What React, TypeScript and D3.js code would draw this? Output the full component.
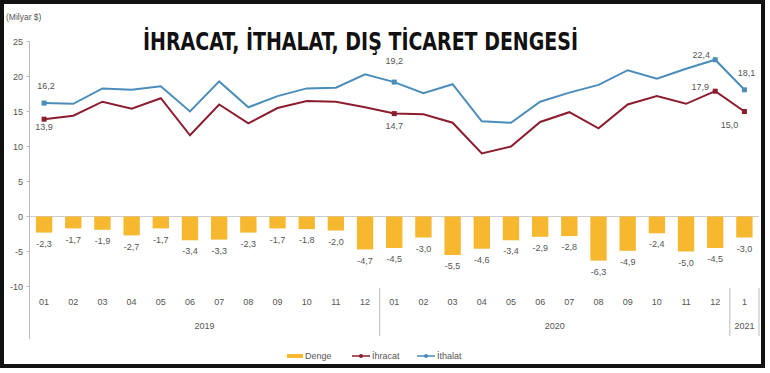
import React from "react";
import * as d3 from "d3";

const months = ["01","02","03","04","05","06","07","08","09","10","11","12","01","02","03","04","05","06","07","08","09","10","11","12","1"];
const years = ["2019", "2020", "2021"];
const yearSpans = [12, 12, 1];

const ithalat = [16.2,16.1,18.3,18.1,18.6,15.0,19.3,15.6,17.2,18.3,18.4,20.3,19.2,17.6,18.9,13.6,13.4,16.4,17.7,18.8,20.9,19.7,21.1,22.4,18.1];
const ihracat = [13.9,14.4,16.4,15.4,16.9,11.6,16.0,13.3,15.5,16.5,16.4,15.6,14.7,14.6,13.4,9.0,10.0,13.5,14.9,12.6,16.0,17.2,16.1,17.9,15.0];
const denge = [-2.3,-1.7,-1.9,-2.7,-1.7,-3.4,-3.3,-2.3,-1.7,-1.8,-2.0,-4.7,-4.5,-3.0,-5.5,-4.6,-3.4,-2.9,-2.8,-6.3,-4.9,-2.4,-5.0,-4.5,-3.0];
const yTicks = [25, 20, 15, 10, 5, 0, -5, -10];

// labelled points (index) with label offsets
const blueMarks = [[0, 2, -17], [12, 0, -21], [23, -14, -5], [24, 2, -17]];
const redMarks = [[0, 0, 8], [12, 0, 12], [23, -15, -4], [24, -15, 13]];

const BLUE = "#4a8dbb";
const RED = "#8c1d2f";
const GOLD = "#f5b82e";
const TXT = "#555";
const fmt = (v: number) => v.toFixed(1).replace(".", ",");

export default function App() {
  const x = d3.scaleBand<number>().domain(d3.range(months.length)).range([29.5, 759]).paddingInner(0.44).paddingOuter(0.22);
  const band = d3.scaleBand<number>().domain(d3.range(months.length)).range([29.5, 759]);
  const y = d3.scaleLinear().domain([-10, 25]).range([286.5, 41.5]);
  const cx = (i: number) => (band(i) as number) + band.bandwidth() / 2;

  const lineGen = (vals: number[]) =>
    d3.line<number>().x((_, i) => cx(i)).y((d) => y(d))(vals) as string;

  let acc = 0;
  const yearPos = yearSpans.map((s) => {
    const start = acc;
    acc += s;
    return { start, end: acc };
  });

  return (
    <svg width={770} height={373} style={{ position: "absolute", left: 0, top: 0, background: "#fff" }}
      fontFamily="'Liberation Sans', Arial, sans-serif">
      <rect x={2} y={2} width={761} height={364} fill="#fff" stroke="#111" strokeWidth={4} />
      <text x={6} y={20} fontSize={8.5} fill={TXT}>(Milyar $)</text>
      <text x={360.5} y={50} textAnchor="middle" fontSize={24} fontWeight="bold" fill="#111"
        fontFamily="'Liberation Sans Narrow', 'DejaVu Sans Condensed', 'Liberation Sans', sans-serif"
        textLength={435} lengthAdjust="spacingAndGlyphs">İHRACAT, İTHALAT, DIŞ TİCARET DENGESİ</text>

      {/* y axis */}
      <line x1={29.5} x2={29.5} y1={y(25)} y2={339} stroke="#bbb" />
      {yTicks.map((t) => (
        <g key={t}>
          <line x1={26.5} x2={29.5} y1={y(t)} y2={y(t)} stroke="#bbb" />
          <text x={23} y={y(t)} dy="0.35em" textAnchor="end" fontSize={9} fill={TXT}>{t}</text>
        </g>
      ))}
      <line x1={29.5} x2={759} y1={y(0)} y2={y(0)} stroke="#ccc" />

      {/* bars */}
      {denge.map((v, i) => (
        <g key={i}>
          <rect x={x(i)} y={y(0)} width={x.bandwidth()} height={y(v) - y(0)} fill={GOLD} />
          <text x={cx(i)} y={y(v) + 11} dy="0.35em" textAnchor="middle" fontSize={9} fill={TXT}>{fmt(v)}</text>
        </g>
      ))}

      {/* lines */}
      <path d={lineGen(ihracat)} fill="none" stroke={RED} strokeWidth={2} />
      <path d={lineGen(ithalat)} fill="none" stroke={BLUE} strokeWidth={2} />
      {redMarks.map(([i, dx, dy]) => (
        <g key={"r" + i}>
          <rect x={cx(i) - 2.5} y={y(ihracat[i]) - 2.5} width={5} height={5} fill={RED} />
          <text x={cx(i) + dx} y={y(ihracat[i]) + dy} dy="0.35em" textAnchor="middle" fontSize={9} fill={TXT}>{fmt(ihracat[i])}</text>
        </g>
      ))}
      {blueMarks.map(([i, dx, dy]) => (
        <g key={"b" + i}>
          <rect x={cx(i) - 2.5} y={y(ithalat[i]) - 2.5} width={5} height={5} fill={BLUE} />
          <text x={cx(i) + dx} y={y(ithalat[i]) + dy} dy="0.35em" textAnchor="middle" fontSize={9} fill={TXT}>{fmt(ithalat[i])}</text>
        </g>
      ))}

      {/* category axis */}
      {months.map((m, i) => (
        <text key={"m" + i} x={cx(i)} y={302} dy="0.35em" textAnchor="middle" fontSize={9} fill={TXT}>{m}</text>
      ))}
      {yearPos.map((p, k) => {
        const x0 = band(p.start) as number;
        const x1 = (band(p.end - 1) as number) + band.bandwidth();
        return (
          <g key={years[k]}>
            {k > 0 && <line x1={x0} x2={x0} y1={288} y2={336} stroke="#bbb" />}
            <text x={(x0 + x1) / 2} y={326} dy="0.35em" textAnchor="middle" fontSize={9} fill={TXT}>{years[k]}</text>
          </g>
        );
      })}
      <line x1={759} x2={759} y1={288} y2={336} stroke="#bbb" />

      {/* legend */}
      <g fontSize={9} fill={TXT}>
        <rect x={287} y={354} width={16} height={4} fill={GOLD} />
        <text x={305} y={356} dy="0.35em">Denge</text>
        <line x1={352} x2={370} y1={356} y2={356} stroke={RED} strokeWidth={1.5} />
        <circle cx={361} cy={356} r={2} fill={RED} />
        <text x={372} y={356} dy="0.35em">İhracat</text>
        <line x1={417} x2={435} y1={356} y2={356} stroke={BLUE} strokeWidth={1.5} />
        <circle cx={426} cy={356} r={2} fill={BLUE} />
        <text x={437} y={356} dy="0.35em">İthalat</text>
      </g>
    </svg>
  );
}
